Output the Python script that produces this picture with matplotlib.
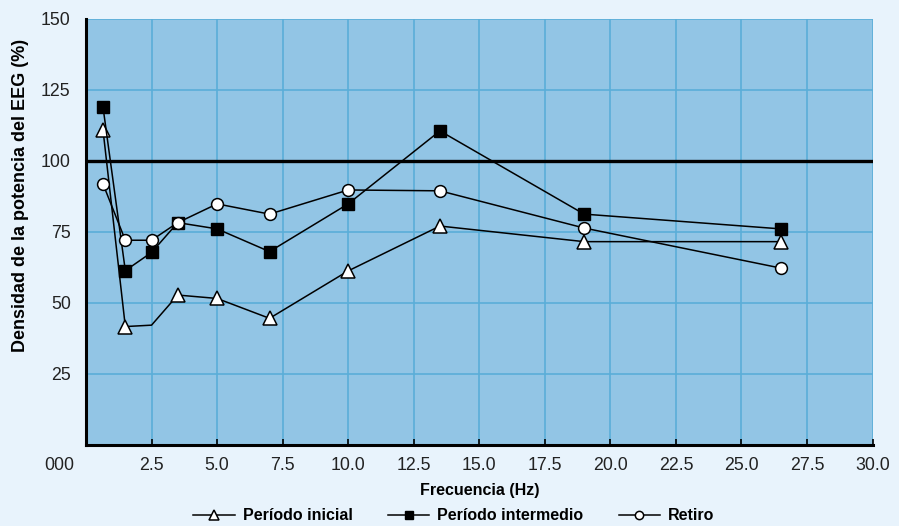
import matplotlib
matplotlib.use("Agg")
import matplotlib.pyplot as plt
import matplotlib.transforms as mtransforms

# Data
freq = [0.65, 1.5, 2.5, 3.5, 5.0, 7.0, 10.0, 13.5, 19.0, 26.5]
inicial = [110.8, 41.7, 42.2, 52.8, 51.6, 44.6, 61.3, 77.1, 71.6, 71.6]
intermedio = [118.9, 61.4, 67.8, 78.3, 76.1, 68.1, 84.9, 110.6, 81.3, 76.1]
retiro = [91.9, 72.1, 72.1, 78.3, 84.9, 81.3, 89.8, 89.5, 76.4, 62.3]
inicial_markers = [0, 1, 3, 4, 5, 6, 7, 8, 9]  # no marker drawn at 2.5 Hz

xticks = [0, 2.5, 5, 7.5, 10, 12.5, 15, 17.5, 20, 22.5, 25, 27.5, 30]
xticklabels = ["000", "2.5", "5.0", "7.5", "10.0", "12.5", "15.0", "17.5",
               "20.0", "22.5", "25.0", "27.5", "30.0"]
yticks = [25, 50, 75, 100, 125, 150]
yticklabels = ["25", "50", "75", "100", "125", "150"]

FIG_BG = "#e8f3fc"
AX_BG = "#92c5e5"
GRID = "#5aaed8"
bold_family = ["Liberation Sans", "DejaVu Sans"]

fig = plt.figure(figsize=(8.99, 5.26), dpi=100, facecolor=FIG_BG)
ax = fig.add_axes([86 / 899, 1 - 445 / 526, (872.5 - 86) / 899, (445 - 19) / 526])
ax.set_facecolor(AX_BG)
ax.set_xlim(0, 30)
ax.set_ylim(0, 150)

ax.set_xticks(xticks)
ax.set_xticklabels(xticklabels, fontfamily="Liberation Sans", fontsize=12.8, color="#222222")
ax.set_yticks(yticks)
ax.set_yticklabels(yticklabels, fontfamily="Liberation Sans", fontsize=12.8, color="#222222")
ax.tick_params(axis="x", direction="in", length=4, width=1.2, pad=9, color="black")
ax.tick_params(axis="y", length=0, pad=11)

ax.grid(True, color=GRID, linewidth=1.2)
ax.set_axisbelow(True)
for s in ["top", "right"]:
    ax.spines[s].set_visible(False)
for s in ["left", "bottom"]:
    ax.spines[s].set_linewidth(2.2)
    ax.spines[s].set_color("black")
    ax.spines[s].set_zorder(5)

# shift the "000" label to the left
lbl0 = ax.get_xticklabels()[0]
lbl0.set_transform(lbl0.get_transform() + mtransforms.ScaledTranslation(-27 / 100, 0, fig.dpi_scale_trans))

ax.axhline(100, color="black", linewidth=2.4, zorder=3)

l1, = ax.plot(freq, inicial, color="black", lw=1.1, marker="^", markersize=10,
              markerfacecolor="white", markeredgecolor="black", markeredgewidth=1.1,
              markevery=inicial_markers, zorder=4, label="Período inicial")
l2, = ax.plot(freq, intermedio, color="black", lw=1.1, marker="s", markersize=8.5,
              markerfacecolor="black", markeredgecolor="black",
              zorder=4, label="Período intermedio")
l3, = ax.plot(freq, retiro, color="black", lw=1.1, marker="o", markersize=8.5,
              markerfacecolor="white", markeredgecolor="black", markeredgewidth=1.1,
              zorder=4, label="Retiro")

ax.set_xlabel("Frecuencia (Hz)", fontfamily=bold_family, fontweight="bold", fontsize=11.5, labelpad=6)
ax.set_ylabel("Densidad de la potencia del EEG (%)", fontfamily=bold_family, fontweight="bold",
              fontsize=13.0)
ax.yaxis.set_label_coords(-0.072, 0.587)

leg = fig.legend(handles=[l1, l2, l3], loc="lower center", bbox_to_anchor=(0.505, -0.022),
                 ncol=3, frameon=False, handlelength=2.6, columnspacing=2.2, handletextpad=0.5,
                 markerscale=0.7, prop={"family": bold_family, "weight": "bold", "size": 11.5})

fig.savefig("out.png", dpi=100, facecolor=FIG_BG)
